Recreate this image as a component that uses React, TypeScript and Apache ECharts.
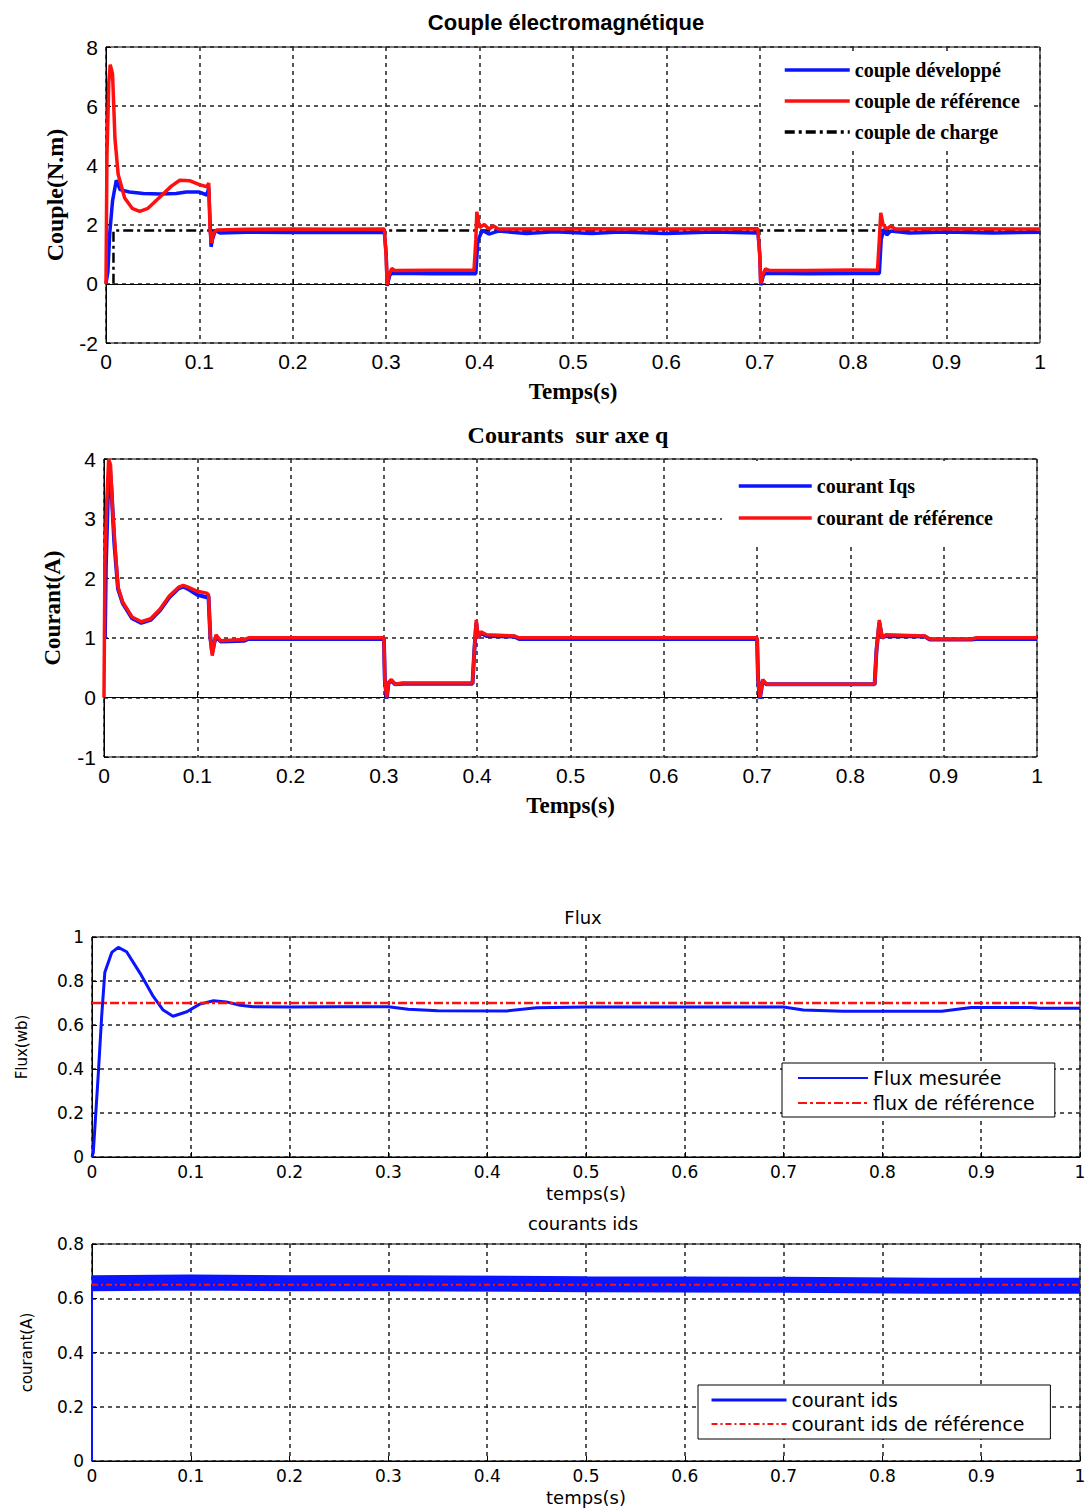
import React, { useEffect, useRef } from "react";
import * as echarts from "echarts";

// ---------- tick values ----------
const timeTicks = { min: 0, max: 1, interval: 0.1 };
const coupleTicks = { min: -2, max: 8, interval: 2 };
const iqsTicks = { min: -1, max: 4, interval: 1 };
const fluxTicks = { min: 0, max: 1, interval: 0.2 };
const idsTicks = { min: 0, max: 0.8, interval: 0.2 };

// ---------- chart 1 : couple électromagnétique ----------
const coupleDeveloppe: [number, number][] = [
  [0, 0], [0.002, 0.4], [0.004, 1.7], [0.007, 2.8], [0.011, 3.5], [0.015, 3.18], [0.025, 3.1],
  [0.04, 3.05], [0.058, 3.03], [0.075, 3.05], [0.086, 3.1], [0.1, 3.1], [0.108, 3.0], [0.11, 3.25],
  [0.1125, 1.25], [0.114, 1.5], [0.117, 1.8], [0.122, 1.72], [0.15, 1.74], [0.2, 1.73], [0.25, 1.74],
  [0.298, 1.73], [0.3, 1.0], [0.301, -0.07], [0.304, 0.3], [0.307, 0.36], [0.35, 0.34], [0.396, 0.34],
  [0.398, 1.4], [0.4, 1.6], [0.403, 1.8], [0.41, 1.68], [0.42, 1.78], [0.45, 1.7], [0.48, 1.76],
  [0.52, 1.7], [0.55, 1.75], [0.6, 1.7], [0.65, 1.75], [0.698, 1.72], [0.7, 1.0], [0.701, -0.05],
  [0.704, 0.3], [0.707, 0.36], [0.75, 0.34], [0.8, 0.35], [0.828, 0.35], [0.83, 1.5], [0.833, 1.85],
  [0.836, 1.65], [0.84, 1.78], [0.86, 1.72], [0.9, 1.75], [0.95, 1.72], [1, 1.74],
];
const coupleReference: [number, number][] = [
  [0, 0], [0.001, 4.3], [0.003, 6.8], [0.0045, 7.4], [0.007, 7.1], [0.0096, 4.9], [0.013, 3.7],
  [0.02, 2.9], [0.028, 2.55], [0.036, 2.45], [0.045, 2.55], [0.058, 2.94], [0.07, 3.3], [0.079, 3.5],
  [0.09, 3.48], [0.1, 3.35], [0.108, 3.28], [0.11, 3.4], [0.1114, 1.8], [0.113, 1.38], [0.115, 1.7],
  [0.1185, 1.82], [0.15, 1.84], [0.2, 1.85], [0.25, 1.84], [0.298, 1.85], [0.3, 0.9], [0.301, -0.03],
  [0.303, 0.3], [0.306, 0.52], [0.309, 0.45], [0.35, 0.46], [0.394, 0.46], [0.396, 1.5], [0.397, 2.43],
  [0.4, 1.9], [0.405, 2.0], [0.41, 1.85], [0.415, 1.95], [0.42, 1.85], [0.5, 1.86], [0.6, 1.85],
  [0.698, 1.86], [0.7, 0.9], [0.701, 0.0], [0.703, 0.3], [0.706, 0.5], [0.71, 0.45], [0.75, 0.45],
  [0.8, 0.47], [0.826, 0.46], [0.828, 1.5], [0.8295, 2.4], [0.832, 2.0], [0.836, 1.85], [0.84, 1.95],
  [0.845, 1.85], [0.9, 1.86], [1, 1.85],
];
const coupleCharge: [number, number][] = [[0.008, 0], [0.008, 1.8], [1, 1.8]];

// ---------- chart 2 : courants sur axe q ----------
const courantIqs: [number, number][] = [
  [0, 1.0], [0.001, 1.0], [0.002, 2.2], [0.004, 3.3], [0.006, 3.9], [0.008, 3.5], [0.011, 2.6],
  [0.015, 1.82], [0.02, 1.58], [0.03, 1.33], [0.04, 1.25], [0.05, 1.3], [0.06, 1.46], [0.07, 1.68],
  [0.08, 1.83], [0.085, 1.86], [0.09, 1.82], [0.1, 1.72], [0.11, 1.68], [0.112, 1.7], [0.114, 1.0],
  [0.116, 0.75], [0.118, 0.9], [0.12, 1.02], [0.125, 0.94], [0.15, 0.95], [0.155, 0.98], [0.3, 0.98],
  [0.301, 0.3], [0.303, -0.02], [0.305, 0.24], [0.308, 0.28], [0.312, 0.22], [0.32, 0.23], [0.395, 0.23],
  [0.397, 0.8], [0.399, 1.25], [0.401, 1.0], [0.404, 1.08], [0.41, 1.03], [0.44, 1.02], [0.445, 0.98],
  [0.7, 0.98], [0.701, 0.3], [0.703, -0.02], [0.706, 0.28], [0.71, 0.22], [0.826, 0.22], [0.828, 0.8],
  [0.831, 1.25], [0.834, 1.0], [0.838, 1.03], [0.88, 1.02], [0.885, 0.97], [0.93, 0.97], [0.935, 0.98],
  [1, 0.98],
];
const courantReference: [number, number][] = [
  [0, 0], [0.001, 2.3], [0.003, 3.3], [0.005, 4.0], [0.007, 3.9], [0.009, 3.2], [0.012, 2.5],
  [0.015, 1.85], [0.02, 1.6], [0.03, 1.35], [0.04, 1.27], [0.05, 1.32], [0.06, 1.48], [0.07, 1.7],
  [0.08, 1.85], [0.085, 1.88], [0.09, 1.85], [0.1, 1.78], [0.11, 1.75], [0.112, 1.72], [0.114, 1.0],
  [0.116, 0.7], [0.118, 0.9], [0.12, 1.05], [0.125, 0.95], [0.15, 0.97], [0.155, 1.0], [0.2, 1.0],
  [0.3, 1.0], [0.301, 0.3], [0.303, 0.0], [0.305, 0.25], [0.308, 0.3], [0.312, 0.22], [0.32, 0.24],
  [0.35, 0.24], [0.395, 0.24], [0.397, 0.8], [0.399, 1.3], [0.401, 1.0], [0.404, 1.1], [0.41, 1.05],
  [0.44, 1.03], [0.445, 1.0], [0.5, 1.0], [0.6, 1.0], [0.7, 1.0], [0.701, 0.3], [0.703, 0.0],
  [0.706, 0.3], [0.71, 0.22], [0.75, 0.22], [0.8, 0.22], [0.826, 0.22], [0.828, 0.8], [0.831, 1.3],
  [0.834, 1.0], [0.838, 1.05], [0.88, 1.03], [0.885, 0.98], [0.93, 0.98], [0.935, 1.0], [1, 1.0],
];

// ---------- chart 3 : flux ----------
const fluxMesure: [number, number][] = [
  [0, 0], [0.0013, 0.02], [0.003, 0.14], [0.0064, 0.38], [0.0098, 0.64], [0.013, 0.84], [0.02, 0.93],
  [0.0266, 0.953], [0.035, 0.933], [0.0486, 0.836], [0.062, 0.73], [0.072, 0.668], [0.082, 0.64],
  [0.096, 0.66], [0.109, 0.695], [0.123, 0.71], [0.136, 0.705], [0.15, 0.69], [0.163, 0.683],
  [0.2, 0.682], [0.25, 0.683], [0.3, 0.683], [0.32, 0.672], [0.35, 0.665], [0.42, 0.664], [0.45, 0.678],
  [0.5, 0.682], [0.6, 0.682], [0.7, 0.682], [0.72, 0.668], [0.76, 0.662], [0.8, 0.662], [0.86, 0.662],
  [0.89, 0.68], [0.95, 0.68], [0.96, 0.676], [1, 0.676],
];
const fluxReference: [number, number][] = [[0, 0.7], [1, 0.7]];

// ---------- chart 4 : courants ids ----------
const courantIds: [number, number][] = [
  [0, 0.655], [0.1, 0.658], [0.2, 0.655], [0.3, 0.655], [0.5, 0.652], [0.7, 0.65], [0.85, 0.646], [1, 0.646],
];
const courantIdsStart: [number, number][] = [[0, 0], [0, 0.65]];
const courantIdsReference: [number, number][] = [[0, 0.65], [1, 0.65]];

// ---------- texts ----------
const titles = ["Couple électromagnétique", "Courants  sur axe q", "Flux", "courants ids"];
const xNames = ["Temps(s)", "Temps(s)", "temps(s)", "temps(s)"];
const yNames = ["Couple(N.m)", "Courant(A)", "Flux(wb)", "courant(A)"];

const SERIF = "'Liberation Serif','Times New Roman',serif";
const SANS = "'Liberation Sans',Arial,sans-serif";
const WIDE = "'DejaVu Sans',Verdana,sans-serif";
const BLUE = "#0a14ff";
const RED = "#ff1010";

export default function App() {
  const ref = useRef<HTMLDivElement>(null);
  useEffect(() => {
    document.body.style.margin = "0";
    const chart = echarts.init(ref.current!, null, { renderer: "svg" });

    const grids = [
      { left: 106, top: 47, width: 934, height: 296 },
      { left: 104, top: 459, width: 933, height: 298 },
      { left: 92, top: 937, width: 988, height: 220 },
      { left: 92, top: 1244, width: 988, height: 217 },
    ];
    const yTicks = [coupleTicks, iqsTicks, fluxTicks, idsTicks];
    const top = [true, true, false, false];

    const splitLine = { show: true, lineStyle: { color: "#222", type: [4, 4], width: 1.5 } };
    const fmt = (v: number) => String(Math.round(v * 1000) / 1000);

    const xAxis = grids.map((g, i) => ({
      type: "value",
      gridIndex: i,
      ...timeTicks,
      name: xNames[i],
      nameLocation: "middle",
      nameGap: top[i] ? 37 : 27,
      nameTextStyle: top[i]
        ? { fontFamily: SERIF, fontWeight: "bold", fontSize: 23, color: "#000" }
        : { fontFamily: WIDE, fontSize: 18, color: "#000" },
      axisLine: { show: true, lineStyle: { color: "#000", width: 1 } },
      axisTick: { show: true, inside: true, length: 5, lineStyle: { color: "#000" } },
      axisLabel: {
        color: "#000",
        fontFamily: top[i] ? SANS : WIDE,
        fontSize: top[i] ? 21 : 17,
        margin: top[i] ? 8 : 6,
        formatter: fmt,
      },
      splitLine,
    }));
    const yAxis = grids.map((g, i) => ({
      type: "value",
      gridIndex: i,
      ...yTicks[i],
      name: yNames[i],
      nameLocation: "middle",
      nameGap: i === 0 ? 39 : i === 1 ? 40 : i === 2 ? 63 : 58,
      nameTextStyle: top[i]
        ? { fontFamily: SERIF, fontWeight: "bold", fontSize: i === 0 ? 24 : 23, color: "#000" }
        : { fontFamily: WIDE, fontSize: 15, color: "#000" },
      axisLine: { show: true, lineStyle: { color: "#000", width: 1 } },
      axisTick: { show: true, inside: true, length: 5, lineStyle: { color: "#000" } },
      axisLabel: {
        color: "#000",
        fontFamily: top[i] ? SANS : WIDE,
        fontSize: top[i] ? 21 : 17,
        margin: 8,
        formatter: fmt,
      },
      splitLine,
    }));

    const line = (name: string, data: [number, number][], idx: number, color: string, width: number, type: any = "solid", z = 2) => ({
      type: "line",
      name,
      data,
      xAxisIndex: idx,
      yAxisIndex: idx,
      showSymbol: false,
      symbol: "none",
      lineStyle: { color, width, type },
      itemStyle: { color },
      z,
      clip: true,
    });

    const hidden = { opacity: 0 };

    const option: any = {
      animation: false,
      backgroundColor: "#fff",
      title: [
        { text: titles[0], left: 561, top: 6, textAlign: "center", textStyle: { fontFamily: SANS, fontWeight: "bold", fontSize: 22, color: "#000" } },
        { text: titles[1], left: 563, top: 418, textAlign: "center", textStyle: { fontFamily: SERIF, fontWeight: "bold", fontSize: 24, color: "#000" } },
        { text: titles[2], left: 578, top: 903, textAlign: "center", textStyle: { fontFamily: WIDE, fontWeight: "normal", fontSize: 18, color: "#000" } },
        { text: titles[3], left: 578, top: 1209, textAlign: "center", textStyle: { fontFamily: WIDE, fontWeight: "normal", fontSize: 18, color: "#000" } },
      ],
      grid: grids.map((g) => ({ ...g, show: true, borderColor: "#000", borderWidth: 1, backgroundColor: "#fff" })),
      xAxis,
      yAxis,
      legend: [
        {
          data: ["couple développé", "couple de référence", "couple de charge"],
          orient: "vertical", left: 761, top: 52, itemWidth: 65, itemHeight: 14, itemGap: 11,
          padding: [8, 14, 8, 22], backgroundColor: "#fff",
          selectedMode: false, itemStyle: hidden, lineStyle: { width: 3.5 },
          textStyle: { fontFamily: SERIF, fontWeight: "bold", fontSize: 20, color: "#000" },
        },
        {
          data: ["courant Iqs", "courant de référence"],
          orient: "vertical", left: 722, top: 461, itemWidth: 73, itemHeight: 14, itemGap: 12,
          padding: [15, 42, 15, 15], backgroundColor: "#fff",
          selectedMode: false, itemStyle: hidden, lineStyle: { width: 3.5 },
          textStyle: { fontFamily: SERIF, fontWeight: "bold", fontSize: 20, color: "#000" },
        },
        {
          data: ["Flux mesurée", "flux de référence"],
          orient: "vertical", left: 782, top: 1063, itemWidth: 70, itemHeight: 14, itemGap: 6,
          padding: [5.5, 20, 4.5, 15], borderColor: "#000", borderWidth: 1, backgroundColor: "#fff",
          selectedMode: false, itemStyle: hidden,
          textStyle: { fontFamily: WIDE, fontSize: 19, color: "#000" },
        },
        {
          data: [
            { name: "courant ids", lineStyle: { width: 3, color: BLUE } },
            "courant ids de référence",
          ],
          orient: "vertical", left: 698, top: 1385, itemWidth: 75, itemHeight: 14, itemGap: 5,
          padding: [5.5, 26, 5.5, 12], borderColor: "#000", borderWidth: 1, backgroundColor: "#fff",
          selectedMode: false, itemStyle: hidden,
          textStyle: { fontFamily: WIDE, fontSize: 19, color: "#000" },
        },
      ],
      series: [
        line("couple de charge", coupleCharge, 0, "#000", 2.5, [10, 4, 3, 4], 1),
        line("couple développé", coupleDeveloppe, 0, BLUE, 3.5, "solid", 2),
        line("couple de référence", coupleReference, 0, RED, 3.5, "solid", 3),
        line("courant Iqs", courantIqs, 1, BLUE, 4, "solid", 2),
        line("courant de référence", courantReference, 1, RED, 3.5, "solid", 3),
        line("Flux mesurée", fluxMesure, 2, BLUE, 3, "solid", 2),
        line("flux de référence", fluxReference, 2, RED, 2.5, [9, 3, 3, 3], 3),
        line("courant ids", courantIds, 3, BLUE, 16, "solid", 2),
        line("ids_start", courantIdsStart, 3, BLUE, 2, "solid", 2),
        line("courant ids de référence", courantIdsReference, 3, RED, 2, [6, 3, 2, 3], 3),
      ],
    };
    chart.setOption(option);
    return () => chart.dispose();
  }, []);
  return <div ref={ref} style={{ width: 1089, height: 1508 }} />;
}
